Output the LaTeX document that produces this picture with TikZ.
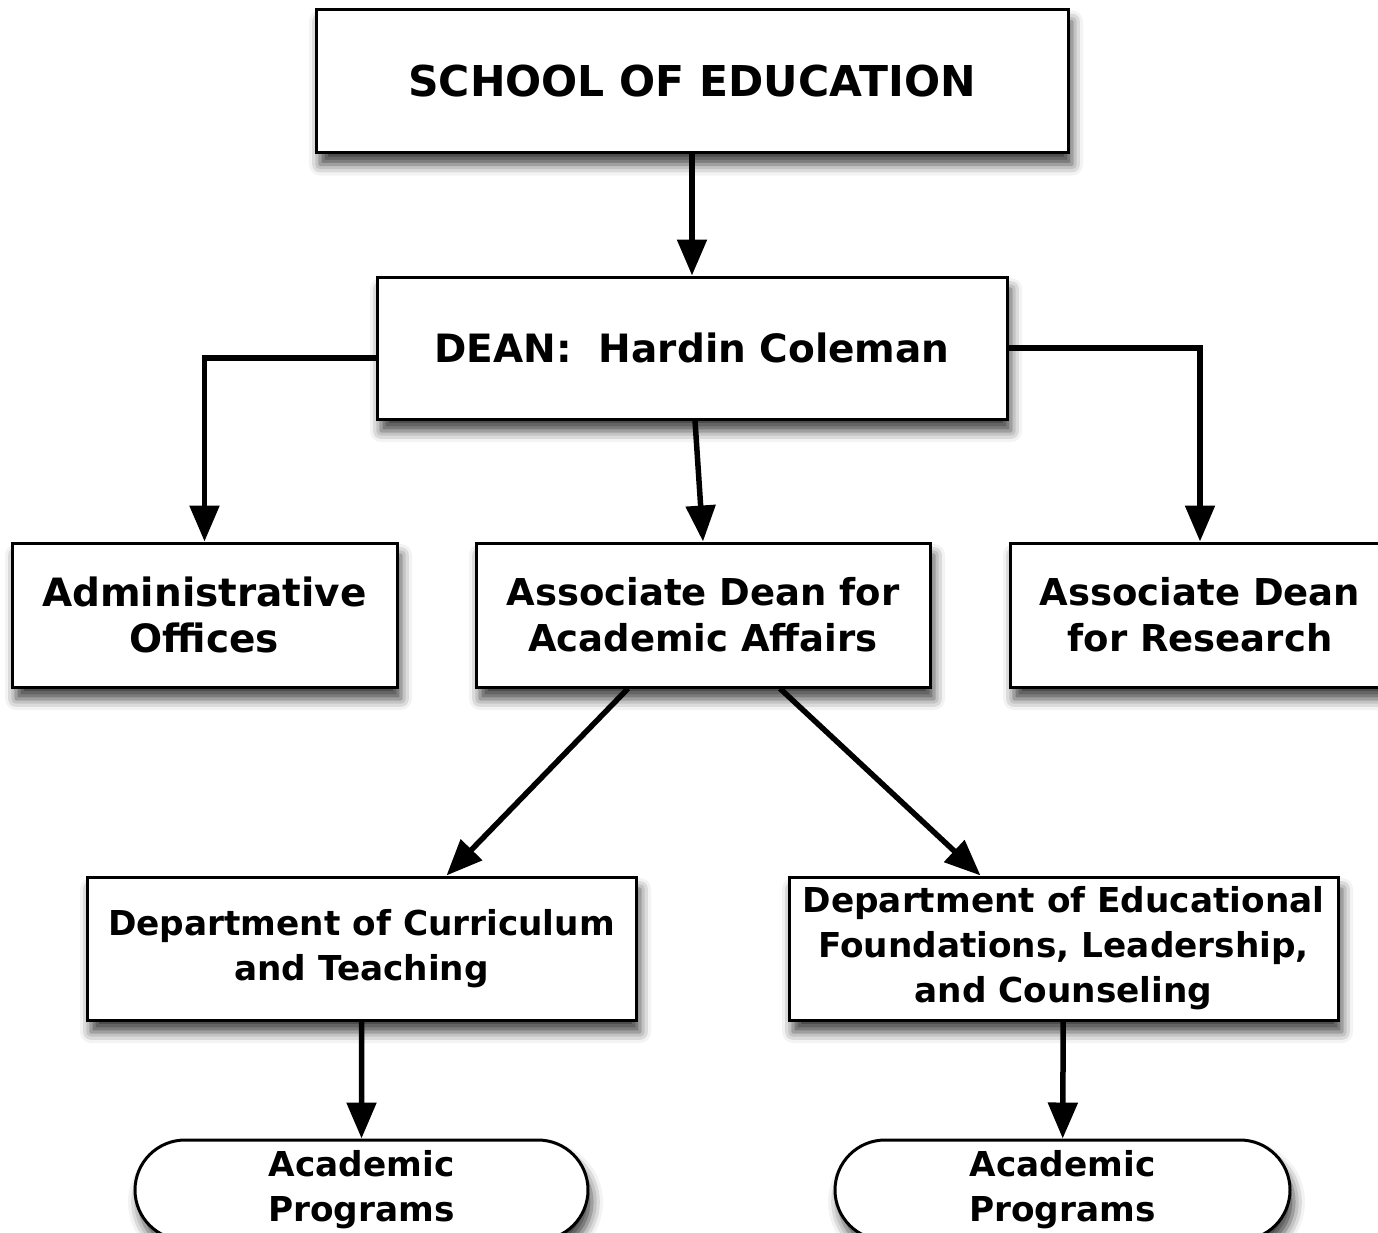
\documentclass[tikz,border=0pt]{standalone}
\usepackage{fontspec}
\setmainfont{DejaVu Sans}
\usetikzlibrary{shapes.misc,shadows.blur,arrows.meta}

\begin{document}
\begin{tikzpicture}[
    x=1pt, y=-1pt,
    box/.style={rectangle, draw, line width=3pt, fill=white, align=center,
        font=\fontsize{39}{46}\selectfont\bfseries,
        blur shadow={shadow xshift=4pt, shadow yshift=-12pt, shadow blur radius=11pt, shadow opacity=75}},
    prog/.style={box, rounded rectangle},
    arrow/.style={-{Triangle[length=36pt, width=29pt]}, line width=5.5pt}
]
\useasboundingbox (0,0) rectangle (1378,1232);

% Top of the chart
\node[box, minimum width=752pt, minimum height=143pt, font=\fontsize{42.5}{48}\selectfont\bfseries] (school) at (692,81) {SCHOOL OF EDUCATION};
\node[box, minimum width=630pt, minimum height=142pt] (dean) at (692,348) {DEAN:\ \ Hardin Coleman};

% Second level
\node[box, minimum width=385pt, minimum height=144pt] (admin) at (204.5,615) {Administrative\\Offices};
\node[box, minimum width=454pt, minimum height=144pt, font=\fontsize{37}{46}\selectfont\bfseries] (acad) at (703,615) {Associate Dean for\\Academic Affairs};
\node[box, minimum width=380pt, minimum height=144pt, font=\fontsize{37}{46}\selectfont\bfseries] (res) at (1200,615) {Associate Dean\\for Research};

% Departments
\node[box, minimum width=549pt, minimum height=143pt, font=\fontsize{34.3}{45}\selectfont\bfseries] (ct) at (361.5,948.5) {Department of Curriculum\\and Teaching};
\node[box, minimum width=549pt, minimum height=143pt, font=\fontsize{34.3}{45}\selectfont\bfseries] (eflc) at (1063.5,948.5) {Department of Educational\\Foundations, Leadership,\\and Counseling};

% Programs (cut off at the bottom)
\node[prog, minimum width=453pt, minimum height=100pt, inner sep=0pt, font=\fontsize{34.3}{45}\selectfont\bfseries] (pct) at (361.5,1190) {Academic\\Programs};
\node[prog, minimum width=455pt, minimum height=100pt, inner sep=0pt, font=\fontsize{34.3}{45}\selectfont\bfseries] (peflc) at (1062.5,1190) {Academic\\Programs};

% Connectors
\draw[arrow] (school) -- (dean);
\draw[arrow] ([yshift=-10pt]dean.west) -| (admin.north);
\draw[arrow] (dean.east) -| (res.north);
\draw[arrow] ([xshift=3pt]dean.south) -- (acad.north);
\draw[arrow] ([xshift=-75pt]acad.south) -- ([xshift=85pt]ct.north);
\draw[arrow] ([xshift=77pt]acad.south) -- ([xshift=-83pt]eflc.north);
\draw[arrow] (ct) -- (pct);
\draw[arrow] (eflc) -- (peflc);

\end{tikzpicture}
\end{document}
